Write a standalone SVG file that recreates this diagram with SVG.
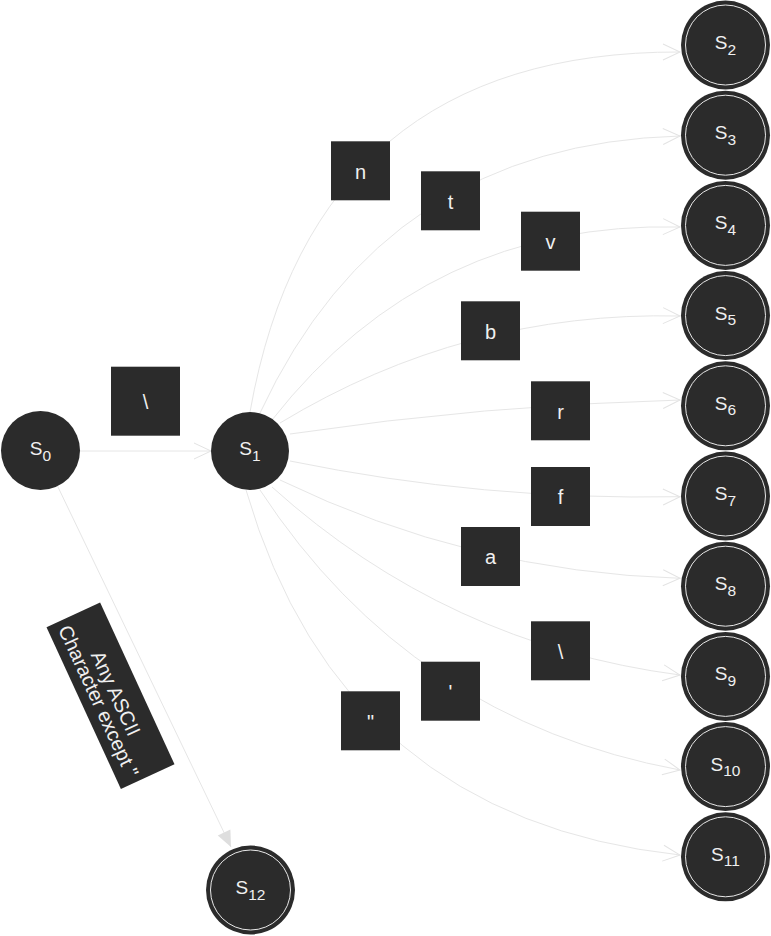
<svg xmlns="http://www.w3.org/2000/svg" width="771" height="936" viewBox="0 0 771 936">
<style>
.edge{fill:none;stroke:#e6e6e6;stroke-width:1}
.node{fill:#2b2b2b}
.ring{fill:none;stroke:#e8e8e8;stroke-width:1}
.box{fill:#2b2b2b}
.lbl{fill:#f0f0f0;font-family:"Liberation Sans",Arial,sans-serif;font-size:20px;text-anchor:middle}
.st{fill:#f0f0f0;font-family:"Liberation Sans",Arial,sans-serif;font-size:19px;text-anchor:middle}
.sub{font-size:15.5px}
</style>
<defs>
<marker id="chev" viewBox="0 0 18 18" refX="17" refY="8" markerWidth="18" markerHeight="18" markerUnits="userSpaceOnUse" orient="auto" overflow="visible">
<path d="M0,0 L17,8 L0,16" fill="none" stroke="#e3e3e3" stroke-width="1"/>
</marker>
<marker id="tri" viewBox="0 0 16 14" refX="16" refY="7" markerWidth="16" markerHeight="14" markerUnits="userSpaceOnUse" orient="auto" overflow="visible">
<path d="M0,0 L16,7 L0,14 Z" fill="#dedede"/>
</marker>
</defs>
<rect width="771" height="936" fill="#ffffff"/>
<g id="connectors">
<path class="edge" d="M80,451 L211,451" marker-end="url(#chev)"/>
<path class="edge" d="M250,412 Q314,51 680,52" marker-end="url(#chev)"/>
<path class="edge" d="M260,413 Q385,144 680,136" marker-end="url(#chev)"/>
<path class="edge" d="M272,420 Q428,221 680,227" marker-end="url(#chev)"/>
<path class="edge" d="M280,423 Q465,311 680,316" marker-end="url(#chev)"/>
<path class="edge" d="M290,434 Q484.5,405 680,400" marker-end="url(#chev)"/>
<path class="edge" d="M290,461 Q483.5,500.6 680,496.7" marker-end="url(#chev)"/>
<path class="edge" d="M280,480 Q470,572 680,578.3" marker-end="url(#chev)"/>
<path class="edge" d="M272,487 Q447,644.5 680,675" marker-end="url(#chev)"/>
<path class="edge" d="M260,490 Q410.7,720 680,770" marker-end="url(#chev)"/>
<path class="edge" d="M246,490 Q341.4,818 680,855" marker-end="url(#chev)"/>
<path class="edge" d="M57.5,486 L231,847" marker-end="url(#tri)"/>
</g>
<g id="labels">
<g id="l-s0-s1"><rect class="box" x="111" y="366.7" width="69" height="69"/><text class="lbl" x="145.5" y="408.5">\</text></g>
<g id="l-n"><rect class="box" x="331" y="141.3" width="59" height="59"/><text class="lbl" x="360.5" y="178.5">n</text></g>
<g id="l-t"><rect class="box" x="421" y="171.3" width="59" height="59"/><text class="lbl" x="450.5" y="208.5">t</text></g>
<g id="l-v"><rect class="box" x="521" y="211.7" width="59" height="59"/><text class="lbl" x="550.5" y="249">v</text></g>
<g id="l-b"><rect class="box" x="461" y="301.3" width="59" height="59"/><text class="lbl" x="490.5" y="338.5">b</text></g>
<g id="l-r"><rect class="box" x="531" y="381.3" width="59" height="59"/><text class="lbl" x="560.5" y="418.5">r</text></g>
<g id="l-f"><rect class="box" x="531" y="467" width="59" height="59"/><text class="lbl" x="560.5" y="504">f</text></g>
<g id="l-a"><rect class="box" x="461" y="527" width="59" height="59"/><text class="lbl" x="490.5" y="564">a</text></g>
<g id="l-bs"><rect class="box" x="531" y="621.3" width="59" height="59"/><text class="lbl" x="560.5" y="658.5">\</text></g>
<g id="l-sq"><rect class="box" x="421" y="661.7" width="59" height="59"/><text class="lbl" x="450.5" y="699">'</text></g>
<g id="l-dq"><rect class="box" x="341" y="691.3" width="59" height="59"/><text class="lbl" x="370.5" y="728.5">"</text></g>
<g id="l-any" transform="translate(110.5,695.7) rotate(65.3)"><rect class="box" x="-89" y="-29.5" width="178" height="59"/><text class="lbl" x="0" y="1">Any ASCII</text><text class="lbl" x="0" y="20">Character except "</text></g>
</g>
<g id="S0"><circle class="node" cx="40.5" cy="450.5" r="39.5"/><text class="st" x="40.5" y="455">S<tspan class="sub" dy="5.5">0</tspan></text></g>
<g id="S1"><circle class="node" cx="250" cy="451" r="39"/><text class="st" x="250" y="455">S<tspan class="sub" dy="5.5">1</tspan></text></g>
<g id="S2"><circle class="node" cx="725.5" cy="45" r="44.5"/><circle class="ring" cx="725.5" cy="45" r="40"/><text class="st" x="725.5" y="49">S<tspan class="sub" dy="5.5">2</tspan></text></g>
<g id="S3"><circle class="node" cx="725.5" cy="135.2" r="44.5"/><circle class="ring" cx="725.5" cy="135.2" r="40"/><text class="st" x="725.5" y="139.2">S<tspan class="sub" dy="5.5">3</tspan></text></g>
<g id="S4"><circle class="node" cx="725.5" cy="225.4" r="44.5"/><circle class="ring" cx="725.5" cy="225.4" r="40"/><text class="st" x="725.5" y="229.4">S<tspan class="sub" dy="5.5">4</tspan></text></g>
<g id="S5"><circle class="node" cx="725.5" cy="315.6" r="44.5"/><circle class="ring" cx="725.5" cy="315.6" r="40"/><text class="st" x="725.5" y="319.6">S<tspan class="sub" dy="5.5">5</tspan></text></g>
<g id="S6"><circle class="node" cx="725.5" cy="405.8" r="44.5"/><circle class="ring" cx="725.5" cy="405.8" r="40"/><text class="st" x="725.5" y="409.8">S<tspan class="sub" dy="5.5">6</tspan></text></g>
<g id="S7"><circle class="node" cx="725.5" cy="496" r="44.5"/><circle class="ring" cx="725.5" cy="496" r="40"/><text class="st" x="725.5" y="500">S<tspan class="sub" dy="5.5">7</tspan></text></g>
<g id="S8"><circle class="node" cx="725.5" cy="586.2" r="44.5"/><circle class="ring" cx="725.5" cy="586.2" r="40"/><text class="st" x="725.5" y="590.2">S<tspan class="sub" dy="5.5">8</tspan></text></g>
<g id="S9"><circle class="node" cx="725.5" cy="676.4" r="44.5"/><circle class="ring" cx="725.5" cy="676.4" r="40"/><text class="st" x="725.5" y="680.4">S<tspan class="sub" dy="5.5">9</tspan></text></g>
<g id="S10"><circle class="node" cx="725.5" cy="766.6" r="44.5"/><circle class="ring" cx="725.5" cy="766.6" r="40"/><text class="st" x="725.5" y="770.6">S<tspan class="sub" dy="5.5">10</tspan></text></g>
<g id="S11"><circle class="node" cx="725.5" cy="856.8" r="44.5"/><circle class="ring" cx="725.5" cy="856.8" r="40"/><text class="st" x="725.5" y="860.8">S<tspan class="sub" dy="5.5">11</tspan></text></g>
<g id="S12"><circle class="node" cx="250.5" cy="890" r="44.5"/><circle class="ring" cx="250.5" cy="890" r="40"/><text class="st" x="250.5" y="894">S<tspan class="sub" dy="5.5">12</tspan></text></g>
</svg>
